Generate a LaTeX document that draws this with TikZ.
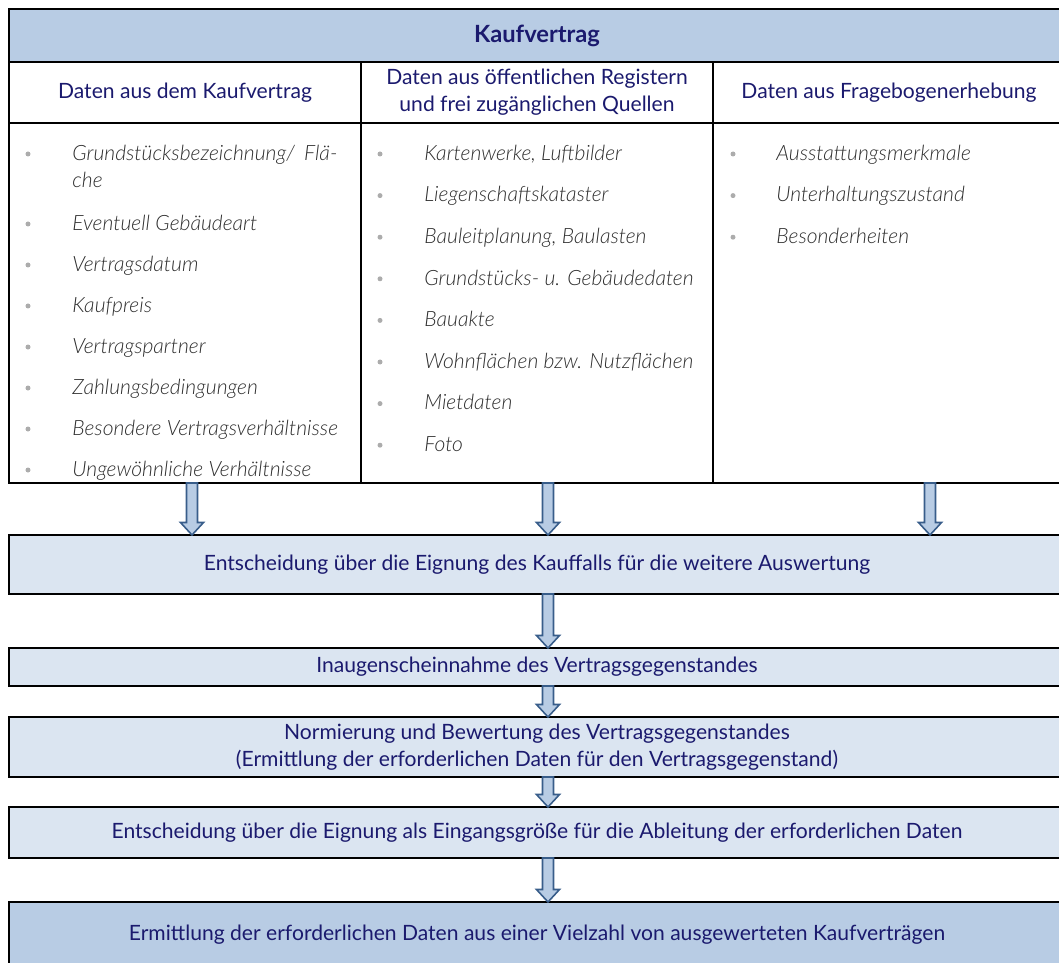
\documentclass[tikz,border=0pt]{standalone}
\usepackage{fontspec}
\setmainfont{Lato}
\newfontfamily\lightfont{Lato}[UprightFont={* Light}, ItalicFont={* Light Italic}]
\usepackage{xcolor}
\usetikzlibrary{positioning, calc}
\definecolor{headblue}{HTML}{B8CCE4}
\definecolor{lightblue}{HTML}{DBE5F1}
\definecolor{navytext}{HTML}{1B1A6E}
\definecolor{itemgray}{HTML}{2E2E2E}
\definecolor{arrowline}{HTML}{385D8A}

\begin{document}
\begin{tikzpicture}[
  font=\fontsize{12}{15.3}\selectfont,
  cellbox/.style={
    rectangle, draw=black, line width=1.4pt, inner sep=0pt, outer sep=0pt,
    align=center, text=navytext
  },
  headcell/.style={cellbox, fill=headblue, minimum width=21.12cm, minimum height=1.06cm,
    font=\fontsize{13.5}{15.3}\selectfont\bfseries},
  colhead/.style={cellbox, minimum width=7.04cm, minimum height=1.22cm},
  bodycell/.style={cellbox, minimum width=7.04cm, minimum height=7.2cm},
  stepbox/.style={cellbox, fill=lightblue, minimum width=21.12cm},
  resultbox/.style={cellbox, fill=headblue, minimum width=21.12cm},
  bulletdot/.style={circle, fill=gray!65, inner sep=0pt, minimum size=0.1cm},
  itemtxt/.style={anchor=west, inner sep=0pt, text=itemgray,
    font=\lightfont\fontsize{12}{15.3}\selectfont\itshape, text height=0.72em, text depth=0pt},
  blockarr/.style={draw=arrowline, fill=headblue, line width=0.9pt, line join=miter,
    to path={let \p1=(\tikztostart), \p2=(\tikztotarget) in
      (\x1-0.11cm,\y1) -- (\x1-0.11cm,\y2+0.25cm) -- (\x1-0.23cm,\y2+0.25cm) -- (\x1,\y2)
      -- (\x1+0.23cm,\y2+0.25cm) -- (\x1+0.11cm,\y2+0.25cm) -- (\x1+0.11cm,\y1) -- cycle}},
]
\useasboundingbox (0,0) rectangle (21.18,-19.26);

% Table: title row, column heads, bodies
\node[headcell, anchor=north west] (kauf) at (0.18,-0.18) {Kaufvertrag};
\node[colhead, anchor=north west] (h1) at (kauf.south west) {Daten aus dem Kaufvertrag};
\node[colhead, anchor=north west] (h2) at (h1.north east) {Daten aus öffentlichen Registern\\und frei zugänglichen Quellen};
\node[colhead, anchor=north west] (h3) at (h2.north east) {Daten aus Fragebogenerhebung};
\node[bodycell, anchor=north] (b1) at (h1.south) {};
\node[bodycell, anchor=north] (b2) at (h2.south) {};
\node[bodycell, anchor=north] (b3) at (h3.south) {};

% Column 1 items
\node[bulletdot] (d1-0) at (0.56,-3.08) {};
\node[itemtxt] (t1-0) at (1.44,-3.08) {\hbox to 5.3cm{Grundstücksbezeichnung/\hfill Flä-}};
\node[itemtxt] (t1-00) at (1.44,-3.62) {che};
\foreach \txt [count=\i] in {Eventuell Gebäudeart, Vertragsdatum, Kaufpreis, Vertragspartner,
  Zahlungsbedingungen, Besondere Vertragsverhältnisse, Ungewöhnliche Verhältnisse} {
  \node[bulletdot] (d1-\i) at (0.56,{-4.48-0.82*(\i-1)}) {};
  \node[itemtxt] (t1-\i) at (1.44,{-4.48-0.82*(\i-1)}) {\txt};
}

% Column 2 items
\foreach \txt [count=\i] in {{Kartenwerke, Luftbilder}, Liegenschaftskataster, {Bauleitplanung, Baulasten},
  Grundstücks- u. Gebäudedaten, Bauakte, Wohnflächen bzw. Nutzflächen, Mietdaten, Foto} {
  \node[bulletdot] (d2-\i) at (7.60,{-3.08-0.832*(\i-1)}) {};
  \node[itemtxt] (t2-\i) at (8.48,{-3.08-0.832*(\i-1)}) {\txt};
}

% Column 3 items
\foreach \txt [count=\i] in {Ausstattungsmerkmale, Unterhaltungszustand, Besonderheiten} {
  \node[bulletdot] (d3-\i) at (14.66,{-3.08-0.832*(\i-1)}) {};
  \node[itemtxt] (t3-\i) at (15.52,{-3.08-0.832*(\i-1)}) {\txt};
}

% Process steps
\node[stepbox, minimum height=1.18cm, below=1.04cm of b1.south west, anchor=north west] (ent)
  {Entscheidung über die Eignung des Kauffalls für die weitere Auswertung};
\node[stepbox, minimum height=0.76cm, below=1.08cm of ent] (insp)
  {Inaugenscheinnahme des Vertragsgegenstandes};
\node[stepbox, minimum height=1.2cm, below=0.62cm of insp] (norm)
  {Normierung und Bewertung des Vertragsgegenstandes\\(Ermittlung der erforderlichen Daten für den Vertragsgegenstand)};
\node[stepbox, minimum height=1.02cm, below=0.6cm of norm] (eign)
  {Entscheidung über die Eignung als Eingangsgröße für die Ableitung der erforderlichen Daten};
\node[resultbox, minimum height=1.32cm, below=0.88cm of eign] (ermit)
  {Ermittlung der erforderlichen Daten aus einer Vielzahl von ausgewerteten Kaufverträgen};

% Block arrows
\coordinate (a1) at ([xshift=0.14cm]b1.south);
\coordinate (a2) at ([xshift=0.22cm]b2.south);
\coordinate (a3) at ([xshift=0.82cm]b3.south);
\draw[blockarr] (a1) to (a1 |- ent.north);
\draw[blockarr] (a2) to (a2 |- ent.north);
\draw[blockarr] (a3) to (a3 |- ent.north);
\draw[blockarr] (ent.south -| a2) to (insp.north -| a2);
\draw[blockarr] (insp.south -| a2) to (norm.north -| a2);
\draw[blockarr] (norm.south -| a2) to (eign.north -| a2);
\draw[blockarr] (eign.south -| a2) to (ermit.north -| a2);
\end{tikzpicture}
\end{document}
